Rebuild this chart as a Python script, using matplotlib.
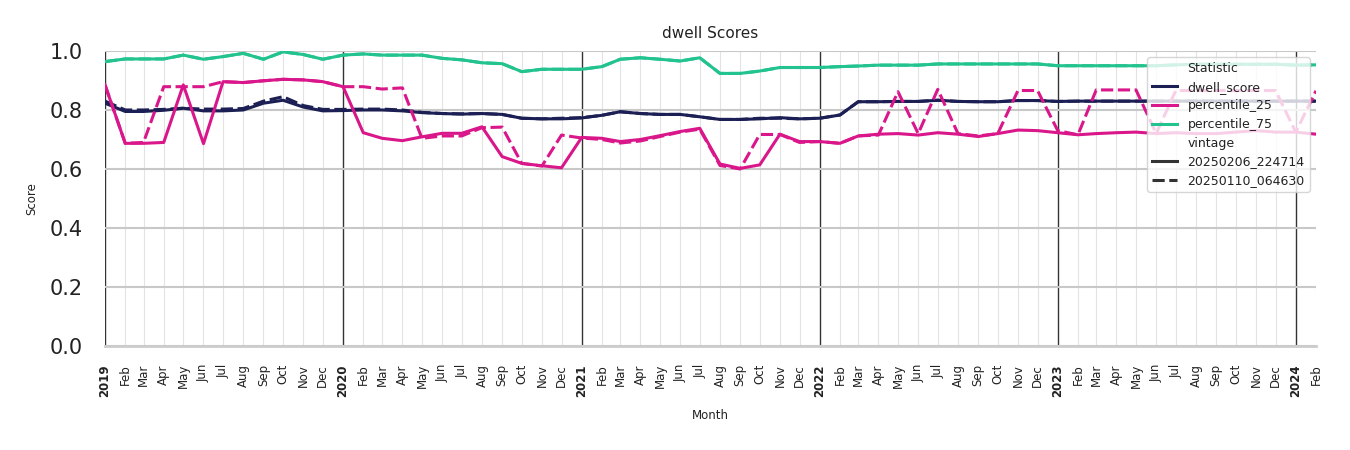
import numpy as np
import pandas as pd
import matplotlib
matplotlib.use("Agg")
import matplotlib.pyplot as plt
from matplotlib.lines import Line2D

months = pd.date_range("2019-01-01", "2024-02-01", freq="MS")

dwell_new = [
    0.823, 0.795, 0.795, 0.799, 0.806, 0.797, 0.797, 0.800, 0.823, 0.833, 0.810, 0.797,
    0.798, 0.800, 0.800, 0.797, 0.791, 0.788, 0.786, 0.788, 0.785, 0.772, 0.770, 0.770,
    0.773, 0.782, 0.794, 0.788, 0.785, 0.785, 0.777, 0.768, 0.768, 0.770, 0.774, 0.770,
    0.772, 0.783, 0.828, 0.828, 0.829, 0.829, 0.833, 0.829, 0.828, 0.828, 0.832, 0.832,
    0.829, 0.830, 0.830, 0.830, 0.830, 0.830, 0.830, 0.830, 0.830, 0.830, 0.830, 0.830,
    0.830, 0.830,
]
dwell_old = [
    0.830, 0.800, 0.800, 0.802, 0.806, 0.803, 0.803, 0.805, 0.830, 0.845, 0.815, 0.802,
    0.802, 0.803, 0.803, 0.800, 0.792, 0.788, 0.787, 0.788, 0.785, 0.772, 0.770, 0.772,
    0.774, 0.782, 0.794, 0.788, 0.785, 0.785, 0.777, 0.768, 0.768, 0.772, 0.772, 0.770,
    0.772, 0.783, 0.828, 0.828, 0.829, 0.829, 0.833, 0.829, 0.828, 0.828, 0.832, 0.832,
    0.829, 0.830, 0.830, 0.830, 0.830, 0.830, 0.830, 0.830, 0.830, 0.830, 0.830, 0.830,
    0.830, 0.830,
]
p25_new = [
    0.885, 0.687, 0.687, 0.690, 0.885, 0.686, 0.896, 0.893, 0.899, 0.904, 0.902, 0.896,
    0.879, 0.723, 0.704, 0.696, 0.709, 0.721, 0.721, 0.743, 0.642, 0.619, 0.611, 0.604,
    0.707, 0.704, 0.693, 0.700, 0.713, 0.727, 0.738, 0.617, 0.602, 0.614, 0.718, 0.693,
    0.693, 0.687, 0.712, 0.718, 0.720, 0.715, 0.723, 0.718, 0.710, 0.720, 0.732, 0.730,
    0.723, 0.716, 0.720, 0.723, 0.725, 0.720, 0.723, 0.720, 0.720, 0.725, 0.730, 0.725,
    0.725, 0.718,
]
p25_old = [
    0.885, 0.687, 0.690, 0.879, 0.879, 0.879, 0.896, 0.893, 0.899, 0.904, 0.902, 0.896,
    0.879, 0.879, 0.871, 0.875, 0.704, 0.712, 0.712, 0.740, 0.742, 0.619, 0.610, 0.715,
    0.705, 0.700, 0.688, 0.695, 0.710, 0.725, 0.735, 0.612, 0.600, 0.717, 0.717, 0.690,
    0.693, 0.687, 0.712, 0.715, 0.862, 0.720, 0.870, 0.720, 0.712, 0.720, 0.866, 0.866,
    0.730, 0.716, 0.868, 0.868, 0.868, 0.720, 0.866, 0.866, 0.866, 0.866, 0.866, 0.866,
    0.725, 0.865,
]
p75_new = [
    0.964, 0.973, 0.973, 0.973, 0.986, 0.972, 0.981, 0.992, 0.972, 0.997, 0.988, 0.972,
    0.986, 0.990, 0.986, 0.986, 0.986, 0.975, 0.970, 0.960, 0.957, 0.930, 0.938, 0.938,
    0.938, 0.947, 0.972, 0.977, 0.972, 0.966, 0.977, 0.924, 0.924, 0.932, 0.944, 0.944,
    0.944, 0.947, 0.949, 0.952, 0.952, 0.952, 0.956, 0.956, 0.956, 0.956, 0.956, 0.956,
    0.950, 0.950, 0.950, 0.950, 0.950, 0.950, 0.953, 0.955, 0.955, 0.955, 0.955, 0.955,
    0.952, 0.953,
]
p75_old = list(p75_new)

stats = ["dwell_score", "percentile_25", "percentile_75"]
vintages = ["20250206_224714", "20250110_064630"]
colors = {"dwell_score": "#1c1f54", "percentile_25": "#d9178b", "percentile_75": "#22c38e"}
series = {
    ("dwell_score", vintages[0]): dwell_new,
    ("dwell_score", vintages[1]): dwell_old,
    ("percentile_25", vintages[0]): p25_new,
    ("percentile_25", vintages[1]): p25_old,
    ("percentile_75", vintages[0]): p75_new,
    ("percentile_75", vintages[1]): p75_old,
}
styles = {vintages[0]: "-", vintages[1]: (0, (4, 1.5))}

fig = plt.figure(figsize=(13.5, 4.5), dpi=100)
ax = fig.add_axes([0.0778, 0.2311, 0.897, 0.6556])

for stat in stats:
    for v in vintages:
        ax.plot(months, series[(stat, v)], color=colors[stat], linestyle=styles[v], linewidth=2.2)

# grid: horizontal major, light monthly verticals, dark year lines
ax.set_ylim(0, 1.0)
ax.set_yticks([0.0, 0.2, 0.4, 0.6, 0.8, 1.0])
ax.yaxis.grid(True, color="#c8c8c8", linewidth=1.5)
ax.set_xlim(months[0], months[-1])
ax.set_xticks(months)
for m in months:
    if m.month == 1:
        ax.axvline(m, color="#333333", linewidth=1.0, zorder=0.5)
    else:
        ax.axvline(m, color="#e3e3e3", linewidth=0.8, zorder=0.4)
ax.set_axisbelow(True)

labels = [str(m.year) if m.month == 1 else m.strftime("%b") for m in months]
ax.set_xticklabels(labels, rotation=90, fontsize=8.5)
for lab, m in zip(ax.get_xticklabels(), months):
    if m.month == 1:
        lab.set_fontweight("bold")

ax.tick_params(axis="y", length=0, pad=16, labelsize=15, labelcolor="#222222")
ax.tick_params(axis="x", length=0, pad=13, labelcolor="#222222")
for s in ["top", "right", "left"]:
    ax.spines[s].set_visible(False)
ax.spines["bottom"].set_color("#cccccc")
ax.spines["bottom"].set_linewidth(2)

ax.set_title("dwell Scores", fontsize=11, color="#222222", pad=9)
ax.set_xlabel("Month", fontsize=8.5, color="#222222", labelpad=9)
ax.set_ylabel("Score", fontsize=8.5, color="#222222", labelpad=8)

# seaborn-style legend with section headers
blank = Line2D([], [], linestyle="none")
handles = [blank]
names = ["Statistic"]
for stat in stats:
    handles.append(Line2D([], [], color=colors[stat], linewidth=2.2))
    names.append(stat)
handles.append(blank)
names.append("vintage")
for v in vintages:
    handles.append(Line2D([], [], color="#333333", linestyle=styles[v], linewidth=2.2))
    names.append(v)
leg = ax.legend(handles, names, loc="upper right", fontsize=9, framealpha=0.8,
                edgecolor="#cccccc", handlelength=2.0, labelspacing=0.45)
leg.get_frame().set_linewidth(1.0)
for t in leg.get_texts():
    t.set_color("#222222")

fig.savefig("out.png", dpi=100)
